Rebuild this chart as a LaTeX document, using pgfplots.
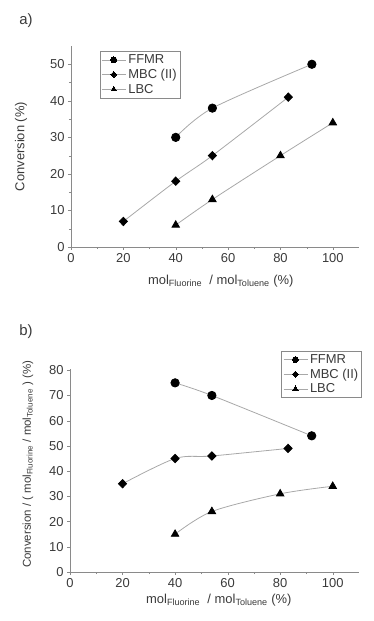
\documentclass[border=0pt]{standalone}
\usepackage{pgfplots}
\pgfplotsset{compat=1.18}
\usepackage{fontspec}
\setmainfont{Liberation Sans}
\definecolor{txt}{HTML}{3A3A3A}
\definecolor{ln}{HTML}{A8A8A8}
\definecolor{ax}{HTML}{8A8A8A}
\newcommand{\fs}{\fontsize{13}{14}\selectfont}
\pgfplotsset{
  myax/.style={
    scale only axis,
    axis lines=left,
    axis line style={ax, -},
    xmin=0, xmax=110,
    xtick={0,20,...,100},
    minor x tick num=1,
    tick align=outside,
    major tick length=3bp,
    minor tick length=2bp,
    tick style={ax},
    font=\fs,
    tick label style={txt, font=\fs},
    label style={txt, font=\fs},
    /pgf/number format/assume math mode=true,
    xlabel={mol\textsubscript{Fluorine} \ / mol\textsubscript{Toluene} (\%)},
    legend cell align=left,
    legend style={draw=ax, fill=white, text=txt, font=\fs, inner sep=1.5pt, row sep=0pt},
    legend image code/.code={
      \draw[ln, line width=0.8pt] (0cm,0cm) -- (0.85cm,0cm);
      \draw[#1, ln, line width=0pt, mark size=3pt, mark repeat=1] plot coordinates {(0.42cm,0cm)};
    },
  },
  sline/.style={ln, line width=0.8pt, smooth, tension=0.5},
  m1/.style={mark=*, mark size=4.2pt, mark options={black, fill=black, solid}},
  m2/.style={mark=diamond*, mark size=4.2pt, mark options={black, fill=black, solid, xscale=1.3}},
  m3/.style={mark=triangle*, mark size=4.3pt, mark options={black, fill=black, solid}},
}
\begin{document}
\begin{tikzpicture}
\path[use as bounding box] (0,0) rectangle (374bp,621bp);
\node[txt, font=\fontsize{15}{17}\selectfont] at (26bp,600bp) {a)};
\node[txt, font=\fontsize{15}{17}\selectfont] at (26bp,289bp) {b)};
\begin{axis}[myax,
  at={(71bp,374bp)}, anchor=origin,
  width=288bp, height=201bp,
  ymin=0, ymax=55,
  ytick={0,10,...,50},
  minor y tick num=1,
  ylabel={Conversion (\%)},
  ylabel style={at={(axis description cs:-0.14,0.5)}},
  xlabel style={at={(axis description cs:0.52,-0.12)}},
  legend style={at={(0.10,0.975)}, anchor=north west},
]
\addplot[sline, m1] coordinates {(40,30) (54,38) (92,50)};
\addlegendentry{FFMR}
\addplot[sline, m2] coordinates {(20,7) (40,18) (54,25) (83,41)};
\addlegendentry{MBC (II)}
\addplot[sline, m3] coordinates {(40,6) (54,13) (80,25) (100,34)};
\addlegendentry{LBC}
\end{axis}
\begin{axis}[myax,
  at={(70bp,49bp)}, anchor=origin,
  width=289bp, height=203bp,
  ymin=0, ymax=80.5,
  ytick={0,10,...,80},
  minor y tick num=0,
  ylabel={Conversion / ( mol\textsubscript{Fluorine} / mol\textsubscript{Toluene} ) (\%)},
  ylabel style={at={(axis description cs:-0.115,0.53)}, font=\fontsize{11.5}{13}\selectfont},
  xlabel style={at={(axis description cs:0.515,-0.09)}},
  legend style={at={(1.01,1.09)}, anchor=north east},
]
\addplot[sline, m1] coordinates {(40,75) (54,70) (92,54)};
\addlegendentry{FFMR}
\addplot[sline, m2] coordinates {(20,35) (40,45) (54,46) (83,49)};
\addlegendentry{MBC (II)}
\addplot[sline, m3] coordinates {(40,15) (54,24) (80,31) (100,34)};
\addlegendentry{LBC}
\end{axis}
\end{tikzpicture}
\end{document}
